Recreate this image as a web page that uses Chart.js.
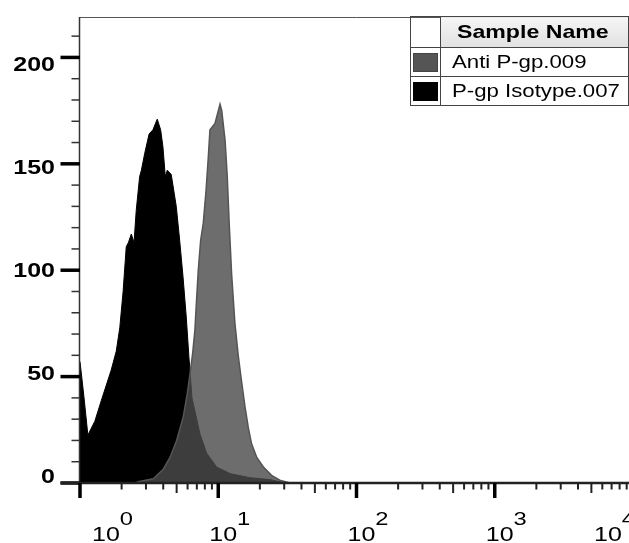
<!DOCTYPE html>
<html>
<head>
<meta charset="utf-8">
<script src="https://cdn.jsdelivr.net/npm/chart.js@4.4.1/dist/chart.umd.min.js"></script>
<style>
  body { margin: 0; background: #fff; overflow: hidden; }
  #wrap { position: relative; width: 629px; height: 543px; overflow: hidden; }
  #chart { position: absolute; left: 0; top: 0; display: block; }
  #legend {
    position: absolute; left: 410px; top: 16px;
    border-collapse: collapse; table-layout: fixed;
    font-family: "Liberation Sans", Arial, sans-serif; font-size: 18.5px; color: #000;
  }
  #legend td { border: 1px solid #444; padding: 0; white-space: nowrap; overflow: hidden; }
  #legend .head { background: linear-gradient(#f5f5f5, #e1e1e1); font-weight: bold; padding-left: 16px; }
  #legend .name { padding-left: 11px; }
  #legend .txt { display: inline-block; transform: scaleX(1.2); transform-origin: left center; }
  #legend .head .txt { transform: scaleX(1.25); }
  #legend .sw { width: 25px; height: 19px; margin: 0 auto; box-sizing: border-box; }
</style>
</head>
<body>
<div id="wrap">
  <canvas id="chart" width="640" height="543"></canvas>
  <table id="legend">
    <colgroup><col style="width:36px"><col style="width:240px"></colgroup>
    <tr style="height:31px"><td></td><td class="head"><span class="txt">Sample Name</span></td></tr>
    <tr style="height:29px"><td><div class="sw" style="background:#555;border:1px solid #444"></div></td><td class="name"><span class="txt">Anti P-gp.009</span></td></tr>
    <tr style="height:29px"><td><div class="sw" style="background:#000"></div></td><td class="name"><span class="txt">P-gp Isotype.007</span></td></tr>
  </table>
</div>
<script>
// isotype control histogram (black)
const isoChannel = [1.00, 1.07, 1.14, 1.28, 1.43, 1.68, 1.83, 1.94, 2.05, 2.16, 2.24, 2.35, 2.46,
  2.55, 2.70, 2.78, 2.94, 3.16, 3.37, 3.62, 3.83, 3.98, 4.14, 4.28, 4.57, 4.97, 5.26, 5.56,
  5.87, 6.14, 6.46, 7.38, 8.25, 9.74, 12.2, 17.0, 23.7, 30.4];
const isoCount = [57, 40, 22.5, 29, 39, 53, 62, 73, 90, 111, 113, 117, 113,
  128, 144, 147, 155, 164, 166, 171, 166, 158, 144, 147, 145, 130, 114, 97,
  78, 59, 40, 23, 14, 7.5, 4.4, 2.5, 1.6, 0];

// anti P-gp histogram (grey)
const antiChannel = [2.57, 3.39, 4.00, 4.48, 5.00, 5.58, 5.97, 6.24, 6.53, 6.78, 6.98, 7.17,
  7.46, 7.79, 8.15, 8.47, 8.71, 9.47, 10.3, 10.6, 11.2, 11.6, 12.0, 12.5, 13.2, 14.0, 14.8,
  15.6, 16.5, 17.4, 19.0, 21.2, 24.3, 27.9, 33.0];
const antiCount = [0.5, 2, 6.5, 12, 20, 31, 42, 51, 61, 72, 87, 100,
  114, 122, 137, 153, 166, 169, 178, 175, 161, 145, 122, 98, 75, 59, 47,
  36, 26, 18.5, 12, 7.5, 3.6, 1.3, 0];

const xDecades = [1, 10, 100, 1000, 10000];
const xExponents = ['0', '1', '2', '3', '4'];
const yMajorTicks = [0, 50, 100, 150, 200];
const yTickLabels = ['0', '50', '100', '150', '200'];
const yMinorStep = 10;
const yMax = 219;

const FONT = '"Liberation Sans", Arial, sans-serif';

function toPoints(xs, ys) {
  return xs.map((v, i) => ({ x: v, y: ys[i] }));
}

function wideText(ctx, text, x, y, align) {
  ctx.save();
  ctx.translate(x, y);
  ctx.scale(1.25, 1);
  ctx.textAlign = align;
  ctx.textBaseline = 'alphabetic';
  ctx.fillText(text, 0, 0);
  ctx.restore();
}

// axes drawn by hand to get the flow cytometry look
const flowAxes = {
  id: 'flowAxes',
  afterDatasetsDraw(chart) {
    const { ctx, chartArea: a, scales: { x, y } } = chart;
    ctx.save();

    // top frame line
    ctx.strokeStyle = '#555';
    ctx.lineWidth = 1;
    ctx.beginPath();
    ctx.moveTo(a.left, a.top + 0.5);
    ctx.lineTo(a.right, a.top + 0.5);
    ctx.stroke();

    // y axis
    ctx.strokeStyle = '#333';
    ctx.lineWidth = 1.5;
    ctx.beginPath();
    ctx.moveTo(a.left - 0.5, a.top);
    ctx.lineTo(a.left - 0.5, a.bottom);
    ctx.stroke();

    for (let v = 0; v <= yMax; v += yMinorStep) {
      const py = y.getPixelForValue(v);
      const major = yMajorTicks.includes(v);
      ctx.strokeStyle = major ? '#000' : '#333';
      ctx.lineWidth = major ? 3.5 : 1.5;
      ctx.beginPath();
      ctx.moveTo(a.left - (major ? 19.5 : 8.5), py);
      ctx.lineTo(a.left, py);
      ctx.stroke();
    }

    ctx.fillStyle = '#000';
    ctx.font = 'bold 20px ' + FONT;
    yMajorTicks.forEach((v, i) => {
      const py = y.getPixelForValue(v);
      wideText(ctx, yTickLabels[i], 55, py + 14 * v / 200, 'right');
    });

    // x axis
    ctx.strokeStyle = '#222';
    ctx.lineWidth = 2.5;
    ctx.beginPath();
    ctx.moveTo(a.left - 19.5, a.bottom);
    ctx.lineTo(a.right, a.bottom);
    ctx.stroke();

    ctx.lineWidth = 2;
    for (let d = 0; d < xDecades.length - 1; d++) {
      for (let m = 2; m <= 9; m++) {
        const px = x.getPixelForValue(xDecades[d] * m);
        ctx.beginPath();
        ctx.moveTo(px, a.bottom);
        ctx.lineTo(px, a.bottom + (m === 5 ? 10 : 6.5));
        ctx.stroke();
      }
    }
    ctx.strokeStyle = '#000';
    ctx.lineWidth = 3.5;
    xDecades.forEach(v => {
      const px = x.getPixelForValue(v);
      ctx.beginPath();
      ctx.moveTo(px, a.bottom);
      ctx.lineTo(px, a.bottom + 15);
      ctx.stroke();
    });

    xDecades.forEach((v, i) => {
      const px = x.getPixelForValue(v);
      const left = Math.min(Math.max(px - 9, a.left + 12), a.right - 39);
      ctx.font = '20px ' + FONT;
      const w = ctx.measureText('10').width * 1.25;
      wideText(ctx, '10', left, 540.5, 'left');
      ctx.font = '19px ' + FONT;
      wideText(ctx, xExponents[i], left + w, 525, 'left');
    });

    ctx.restore();
  }
};

new Chart(document.getElementById('chart'), {
  type: 'line',
  data: {
    datasets: [
      {
        label: 'Anti P-gp.009',
        data: toPoints(antiChannel, antiCount),
        borderColor: '#555',
        borderWidth: 1.5,
        backgroundColor: 'rgba(75,75,75,0.81)',
        fill: 'origin',
        pointRadius: 0,
        tension: 0,
        order: 0
      },
      {
        label: 'P-gp Isotype.007',
        data: toPoints(isoChannel, isoCount),
        borderColor: '#000',
        borderWidth: 1,
        backgroundColor: '#000',
        fill: 'origin',
        pointRadius: 0,
        tension: 0,
        order: 1
      }
    ]
  },
  options: {
    responsive: false,
    animation: false,
    events: [],
    layout: { padding: { left: 80, top: 17, right: 7, bottom: 60 } },
    plugins: { legend: { display: false }, tooltip: { enabled: false } },
    scales: {
      x: { type: 'logarithmic', min: 1, max: 10000, display: false },
      y: { type: 'linear', min: 0, max: yMax, display: false }
    }
  },
  plugins: [flowAxes]
});
</script>
</body>
</html>
